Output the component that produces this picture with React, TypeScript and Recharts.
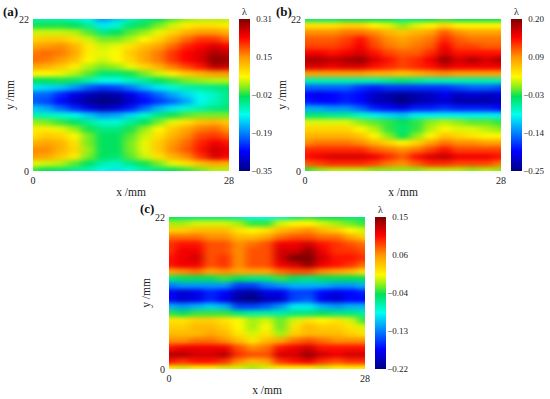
import {
  Bar,
  BarChart,
  Label,
  Scatter,
  ScatterChart,
  XAxis,
  YAxis,
  ZAxis,
} from "recharts";

// Strain maps: lambda x 100, one row per mm from y=22 down to y=0, one column per 2 mm
const gridA = [
  [-7, -7, -7, -8, -11, -17, -14, -8, -5, -3, 0, 2, 3, 3, 3],
  [-2, -2, -2, -3, -6, -12, -9, -4, -2, 1, 4, 7, 8, 8, 7],
  [4, 4, 4, 3, 0, -5, -3, 0, 2, 5, 9, 12, 14, 14, 12],
  [9, 10, 10, 8, 4, 1, 1, 3, 6, 9, 13, 17, 20, 20, 17],
  [13, 14, 15, 12, 7, 4, 5, 8, 11, 13, 17, 21, 23, 25, 23],
  [16, 17, 16, 13, 7, 5, 6, 10, 13, 16, 20, 23, 25, 28, 27],
  [17, 16, 14, 11, 6, 4, 6, 9, 13, 16, 20, 23, 25, 30, 29],
  [13, 12, 10, 7, 3, 1, 2, 5, 9, 12, 16, 19, 22, 27, 26],
  [6, 6, 5, 3, 0, -4, -4, -2, 1, 4, 7, 10, 12, 14, 14],
  [-3, -3, -2, -4, -7, -10, -10, -8, -6, -3, -1, 1, 2, 3, 3],
  [-12, -13, -14, -17, -21, -23, -22, -19, -15, -12, -9, -7, -6, -5, -4],
  [-20, -20, -24, -28, -31, -33, -32, -28, -24, -20, -16, -13, -10, -8, -5],
  [-21, -22, -26, -30, -33, -35, -34, -30, -26, -23, -20, -16, -11, -8, -5],
  [-14, -16, -20, -24, -28, -31, -29, -25, -20, -15, -12, -9, -7, -5, -4],
  [-7, -8, -9, -11, -14, -17, -16, -13, -9, -5, -2, 0, 1, 1, 1],
  [2, 1, -1, -3, -6, -9, -9, -6, -3, 1, 5, 8, 11, 12, 10],
  [7, 7, 5, 2, -2, -5, -5, -2, 2, 6, 10, 13, 16, 17, 14],
  [8, 10, 9, 6, 1, -3, -3, 0, 4, 8, 12, 15, 19, 20, 18],
  [12, 13, 12, 8, 1, -3, -3, 1, 5, 10, 14, 17, 21, 24, 22],
  [15, 15, 12, 9, 2, -3, -3, 1, 5, 10, 15, 18, 22, 26, 24],
  [14, 13, 10, 7, 1, -3, -4, 0, 4, 8, 12, 15, 20, 25, 23],
  [5, 4, 3, 0, -3, -7, -8, -5, -2, 1, 5, 8, 11, 13, 12],
  [-1, -3, -4, -6, -8, -11, -12, -10, -7, -5, -3, -1, 1, 3, 3],
];

const gridB = [
  [-4, -4, -4, -3, -3, -3, -3, -5, -4, -3, -2, -3, -3, -3, -3],
  [4, 4, 4, 5, 5, 3, 2, 0, 2, 3, 5, 3, 3, 3, 3],
  [9, 9, 9, 10, 10, 9, 7, 6, 7, 8, 11, 9, 8, 8, 8],
  [11, 11, 11, 12, 14, 11, 9, 8, 9, 10, 13, 11, 10, 10, 10],
  [12, 12, 12, 13, 15, 12, 10, 9, 10, 11, 15, 12, 12, 11, 11],
  [15, 15, 14, 15, 16, 14, 12, 11, 11, 13, 16, 14, 14, 14, 14],
  [18, 18, 17, 18, 19, 16, 14, 12, 13, 15, 19, 16, 18, 16, 18],
  [16, 16, 15, 16, 16, 14, 13, 12, 13, 14, 16, 15, 15, 15, 15],
  [8, 8, 8, 8, 8, 7, 7, 6, 7, 8, 9, 8, 8, 8, 8],
  [-6, -6, -6, -6, -6, -6, -5, -4, -5, -6, -6, -6, -6, -6, -6],
  [-15, -15, -15, -15, -17, -18, -17, -17, -17, -17, -17, -16, -15, -15, -16],
  [-19, -20, -19, -18, -19, -22, -23, -24, -23, -22, -20, -22, -21, -22, -21],
  [-18, -19, -19, -18, -19, -22, -23, -25, -23, -22, -21, -23, -23, -23, -22],
  [-12, -12, -13, -13, -15, -18, -19, -20, -18, -18, -17, -18, -18, -18, -19],
  [-4, -4, -5, -5, -7, -9, -10, -11, -9, -9, -9, -9, -9, -9, -9],
  [2, 2, 2, 2, 0, -1, -2, -3, -2, 0, 1, 0, -1, -1, -2],
  [5, 5, 5, 5, 3, 1, -2, -4, -2, 1, 3, 2, 2, 1, 0],
  [7, 7, 7, 7, 6, 3, 0, -3, 0, 3, 6, 5, 4, 3, 3],
  [9, 10, 10, 10, 9, 7, 5, 3, 5, 8, 10, 9, 9, 8, 8],
  [13, 13, 13, 13, 13, 11, 10, 9, 10, 12, 14, 12, 12, 12, 12],
  [14, 15, 16, 16, 16, 15, 13, 11, 14, 16, 17, 15, 15, 15, 14],
  [11, 12, 13, 13, 13, 12, 10, 9, 11, 13, 13, 12, 12, 12, 10],
  [-2, 0, 1, 1, 1, 0, 0, 0, 0, 1, 1, 1, 0, 1, 0],
];

const gridC = [
  [-4, -5, -5, -5, -5, -6, -8, -8, -7, -5, -3, -4, -4, -5, -5],
  [-1, -1, 0, 0, 0, -1, -3, -3, 0, 1, 1, 0, -1, -2, -3],
  [3, 3, 4, 4, 4, 2, 1, 2, 4, 5, 6, 4, 3, 1, 0],
  [7, 7, 7, 6, 6, 4, 4, 5, 7, 8, 8, 7, 7, 5, 3],
  [9, 10, 10, 8, 8, 6, 7, 8, 11, 11, 12, 10, 9, 8, 7],
  [9, 11, 11, 8, 8, 6, 8, 8, 12, 12, 14, 11, 9, 9, 8],
  [10, 11, 12, 8, 9, 6, 8, 8, 12, 15, 15, 12, 10, 10, 9],
  [10, 11, 11, 8, 9, 6, 8, 8, 11, 12, 14, 11, 10, 9, 7],
  [5, 6, 7, 5, 6, 5, 5, 5, 7, 8, 8, 6, 5, 4, 2],
  [-5, -4, -4, -4, -3, -4, -5, -5, -3, -4, -5, -4, -4, -4, -4],
  [-13, -12, -12, -12, -12, -15, -15, -13, -12, -11, -11, -11, -12, -12, -11],
  [-17, -19, -18, -16, -17, -20, -21, -18, -18, -15, -15, -17, -18, -17, -16],
  [-17, -19, -18, -16, -18, -21, -22, -20, -19, -15, -14, -18, -19, -17, -17],
  [-11, -12, -11, -10, -11, -15, -15, -14, -12, -9, -9, -11, -12, -11, -11],
  [-3, -4, -3, -3, -3, -5, -6, -6, -6, -5, -5, -4, -5, -5, -6],
  [2, 2, 3, 3, 2, 1, -1, 0, -2, 0, 2, 1, 2, 0, -3],
  [3, 3, 4, 4, 3, 1, -1, 1, -2, 2, 4, 3, 3, 2, 0],
  [4, 4, 4, 5, 4, 2, 0, 2, -1, 3, 4, 4, 4, 3, 2],
  [6, 6, 7, 7, 6, 4, 2, 4, 5, 7, 8, 7, 6, 6, 6],
  [10, 11, 11, 11, 11, 8, 6, 7, 10, 11, 12, 10, 10, 10, 10],
  [13, 13, 12, 12, 13, 9, 8, 8, 12, 12, 14, 12, 11, 12, 12],
  [10, 9, 10, 10, 9, 6, 4, 5, 9, 10, 11, 9, 8, 9, 9],
  [1, 0, 1, 1, 0, 0, -1, 0, 1, 1, 1, 0, 1, 1, 1],
];

const xTicks = [0, 28];
const yTicks = [0, 22];

const barTicksA = [-0.35, -0.185, -0.02, 0.145, 0.31];
const barLabelsA = ["−0.35", "−0.19", "−0.02", "0.15", "0.31"];
const barTicksB = [-0.25, -0.1375, -0.025, 0.0875, 0.2];
const barLabelsB = ["−0.25", "−0.14", "−0.03", "0.09", "0.20"];
const barTicksC = [-0.22, -0.1275, -0.035, 0.0575, 0.15];
const barLabelsC = ["−0.22", "−0.13", "−0.04", "0.06", "0.15"];

const FONT = "'Liberation Serif', serif";
const INK = "#1c1c1c";

// rainbow colour map
const RAMP: [number, number[]][] = [
  [0, [0, 0, 130]],
  [0.13, [0, 0, 255]],
  [0.25, [0, 128, 255]],
  [0.37, [0, 255, 240]],
  [0.49, [0, 225, 90]],
  [0.56, [150, 240, 20]],
  [0.62, [255, 250, 0]],
  [0.75, [255, 150, 0]],
  [0.88, [255, 0, 0]],
  [1, [125, 0, 0]],
];

const rgb = (c: number[]) => `rgb(${c.map(Math.round).join(",")})`;

function ramp(t: number) {
  const v = Math.min(1, Math.max(0, t));
  for (let i = 1; i < RAMP.length; i++) {
    const [t0, c0] = RAMP[i - 1];
    const [t1, c1] = RAMP[i];
    if (v <= t1) {
      const k = (v - t0) / (t1 - t0);
      return rgb(c0.map((c, n) => c + (c1[n] - c) * k));
    }
  }
  return rgb(RAMP[RAMP.length - 1][1]);
}

const toPoints = (grid: number[][]) =>
  grid.flatMap((row, i) =>
    row.map((v, j) => ({ x: j * 2, y: 22 - i, v: v / 100 }))
  );

// plot box inside each heat map svg
const PLOT = { left: 33, top: 19, width: 196, height: 152 };

function HeatCell({ cx, cy, payload, min, max }: any) {
  const w = PLOT.width / 14;
  const h = PLOT.height / 22;
  // edge cells run past the plot so the blur does not fade at the border
  const left = payload.x === 0 ? 24 : w / 2 + 0.5;
  const right = payload.x === 28 ? 24 : w / 2 + 0.5;
  const top = payload.y === 22 ? 24 : h / 2 + 0.5;
  const bottom = payload.y === 0 ? 24 : h / 2 + 0.5;
  return (
    <rect
      x={cx - left}
      y={cy - top}
      width={left + right}
      height={top + bottom}
      fill={ramp((payload.v - min) / (max - min))}
    />
  );
}

function HeatMap({ id, grid, min, max }: any) {
  return (
    <ScatterChart
      width={240}
      height={200}
      margin={{ top: PLOT.top, right: 11, bottom: 0, left: 0 }}
    >
      <defs>
        <filter
          id={`smooth-${id}`}
          x="-20%"
          y="-20%"
          width="140%"
          height="140%"
          colorInterpolationFilters="sRGB"
        >
          <feGaussianBlur stdDeviation="4.5 2" />
        </filter>
        <clipPath id={`box-${id}`}>
          <rect x={PLOT.left} y={PLOT.top} width={PLOT.width} height={PLOT.height} />
        </clipPath>
      </defs>
      <style>{`.heat-${id} { filter: url(#smooth-${id}); clip-path: url(#box-${id}); }`}</style>
      <XAxis
        type="number"
        dataKey="x"
        domain={[0, 28]}
        ticks={xTicks}
        interval={0}
        height={29}
        axisLine={false}
        tickLine={false}
        tickMargin={0}
        tick={{ fontSize: 10, fontFamily: FONT, fill: INK }}
      >
        <Label
          value="x /mm"
          position="insideBottom"
          offset={4}
          fontSize={11.5}
          fontFamily={FONT}
          fill={INK}
        />
      </XAxis>
      <YAxis
        type="number"
        dataKey="y"
        domain={[0, 22]}
        ticks={yTicks}
        interval={0}
        width={33}
        axisLine={false}
        tickLine={false}
        tickMargin={-2}
        tick={{ fontSize: 10, fontFamily: FONT, fill: INK }}
      >
        <Label
          value="y /mm"
          angle={-90}
          position="insideLeft"
          offset={10}
          fontSize={11.5}
          fontFamily={FONT}
          fill={INK}
          textAnchor="middle"
        />
      </YAxis>
      <ZAxis range={[10, 10]} />
      <Scatter
        className={`heat-${id}`}
        data={toPoints(grid)}
        isAnimationActive={false}
        shape={(props: any) => <HeatCell {...props} min={min} max={max} />}
      />
    </ScatterChart>
  );
}

function BarTick({ x, y, index, labels }: any) {
  return (
    <text
      x={x + 14}
      y={y}
      dy={3}
      textAnchor="end"
      fontSize={9}
      fontFamily={FONT}
      fill={INK}
    >
      {labels[index]}
    </text>
  );
}

function ColorBar({ id, min, max, ticks, labels }: any) {
  const data = [{ name: "λ", range: [min, max] }];
  return (
    <BarChart
      width={46}
      height={180}
      data={data}
      barCategoryGap={0}
      margin={{ top: 19, right: 0, bottom: 9, left: 0 }}
    >
      <defs>
        <linearGradient id={`ramp-${id}`} x1="0" y1="1" x2="0" y2="0">
          {RAMP.map(([t, c]) => (
            <stop key={t} offset={t} stopColor={rgb(c)} />
          ))}
        </linearGradient>
      </defs>
      <XAxis dataKey="name" hide />
      <YAxis
        type="number"
        orientation="right"
        domain={[min, max]}
        ticks={ticks}
        interval={0}
        width={35}
        axisLine={false}
        tickLine={false}
        tick={<BarTick labels={labels} />}
      />
      <Bar dataKey="range" fill={`url(#ramp-${id})`} isAnimationActive={false} />
      <text x={5.5} y={15} textAnchor="middle" fontSize={10} fontFamily={FONT} fill={INK}>
        λ
      </text>
    </BarChart>
  );
}

function Panel({ id, title, left, top, titleLeft, titleTop, grid, min, max, ticks, labels }: any) {
  return (
    <>
      <div style={{ position: "absolute", left, top }}>
        <HeatMap id={id} grid={grid} min={min} max={max} />
      </div>
      <div style={{ position: "absolute", left: left + 239, top }}>
        <ColorBar id={id} min={min} max={max} ticks={ticks} labels={labels} />
      </div>
      <div
        style={{
          position: "absolute",
          left: titleLeft,
          top: titleTop,
          font: `bold 13px ${FONT}`,
          color: "#111",
        }}
      >
        {title}
      </div>
    </>
  );
}

export default function App() {
  return (
    <div style={{ position: "absolute", left: 0, top: 0, width: 550, height: 399, background: "#fff", overflow: "hidden" }}>
      <Panel id="a" title="(a)" left={0} top={0} titleLeft={3} titleTop={4} grid={gridA} min={-0.35} max={0.31} ticks={barTicksA} labels={barLabelsA} />
      <Panel id="b" title="(b)" left={272} top={0} titleLeft={276} titleTop={4} grid={gridB} min={-0.25} max={0.2} ticks={barTicksB} labels={barLabelsB} />
      <Panel id="c" title="(c)" left={136} top={198} titleLeft={140} titleTop={201} grid={gridC} min={-0.22} max={0.15} ticks={barTicksC} labels={barLabelsC} />
    </div>
  );
}
